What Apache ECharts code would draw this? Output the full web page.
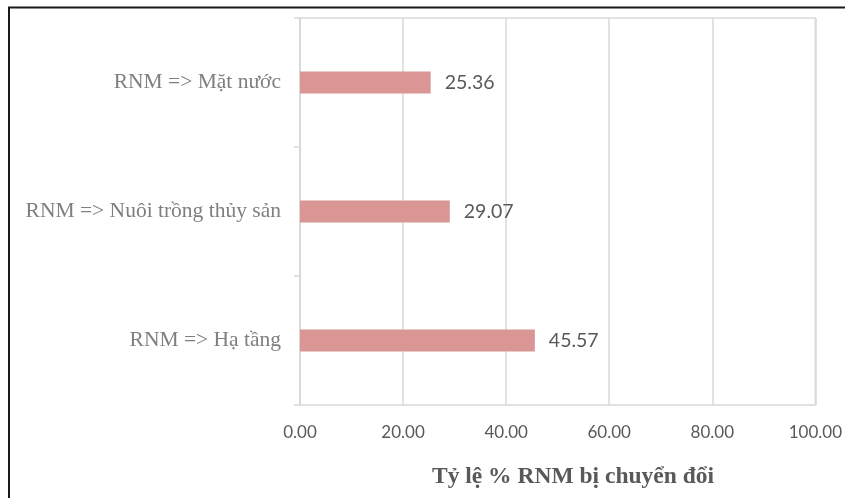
<!DOCTYPE html>
<html>
<head>
<meta charset="utf-8">
<script src="https://cdn.jsdelivr.net/npm/echarts@6/dist/echarts.min.js"></script>
<style>
  html, body { margin: 0; padding: 0; background: #ffffff; }
  #chart { width: 845px; height: 498px; }
</style>
</head>
<body>
<div id="chart"></div>
<script>
// Conversion categories, listed bottom to top
const categories = ['RNM => Hạ tầng', 'RNM => Nuôi trồng thủy sản', 'RNM => Mặt nước'];
// Share of converted mangrove area (%)
const values = [45.57, 29.07, 25.36];
// Value axis range and step
const axisMin = 0;
const axisMax = 100;
const axisStep = 20;
const axisTitle = 'Tỷ lệ % RNM bị chuyển đổi';

const chart = echarts.init(document.getElementById('chart'), null, { renderer: 'canvas' });

chart.setOption({
  animation: false,
  backgroundColor: '#ffffff',
  grid: {
    left: 300, right: 29, top: 18, bottom: 93,
    show: true, borderColor: '#d9d9d9', borderWidth: 1.5
  },
  xAxis: {
    type: 'value',
    min: axisMin, max: axisMax, interval: axisStep,
    axisLine: { show: false },
    axisTick: { show: false },
    splitLine: { show: true, lineStyle: { color: '#d9d9d9', width: 1.5 } },
    axisLabel: {
      margin: 19,
      color: '#595959',
      fontFamily: 'Lato, "Open Sans", sans-serif',
      fontSize: 17,
      formatter: v => v.toFixed(2)
    }
  },
  yAxis: {
    type: 'category',
    data: categories,
    axisLine: { show: true, lineStyle: { color: '#d9d9d9', width: 1.5 } },
    axisTick: { show: true, length: 6, lineStyle: { color: '#d9d9d9', width: 1.5 } },
    axisLabel: {
      margin: 19,
      color: '#7f7f7f',
      fontFamily: '"Liberation Serif", "DejaVu Serif", serif',
      fontSize: 21.5
    }
  },
  series: [{
    type: 'bar',
    data: values,
    barWidth: 22,
    itemStyle: { color: '#d99694' },
    label: {
      show: true,
      position: 'right',
      distance: 14,
      color: '#595959',
      fontFamily: 'Lato, "Open Sans", sans-serif',
      fontSize: 19.5,
      formatter: p => p.value.toFixed(2)
    }
  }],
  graphic: [
    {
      type: 'rect',
      shape: { x: 9, y: 7.5, width: 900, height: 600 },
      style: { fill: 'none', stroke: '#1a1a1a', lineWidth: 2 },
      silent: true
    },
    {
      type: 'text',
      x: 573, y: 477,
      style: {
        text: axisTitle,
        fill: '#595959',
        font: 'bold 23.5px "Liberation Serif", "DejaVu Serif", serif',
        textAlign: 'center',
        textVerticalAlign: 'middle'
      }
    }
  ]
});
</script>
</body>
</html>
